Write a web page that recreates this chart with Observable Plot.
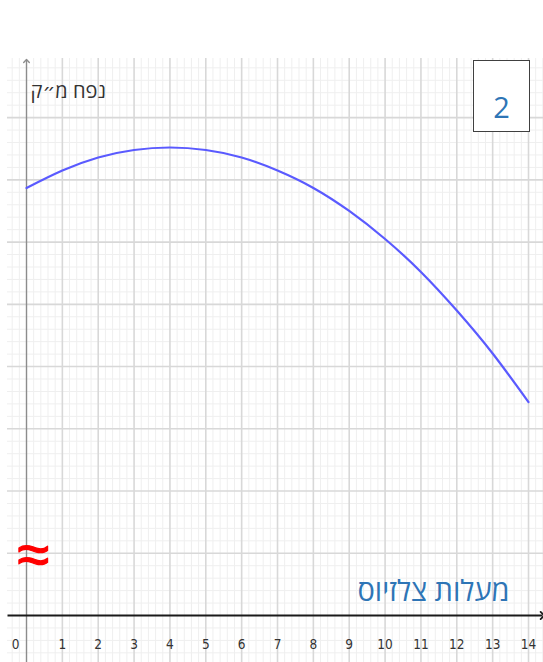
<!DOCTYPE html>
<html>
<head>
<meta charset="utf-8">
<script src="https://cdn.jsdelivr.net/npm/d3@7"></script>
<script src="https://cdn.jsdelivr.net/npm/@observablehq/plot@0.6"></script>
<style>
  html, body { margin: 0; padding: 0; background: #fff; }
  #wrap { position: relative; width: 543px; height: 662px; overflow: hidden; }
  #wrap svg { display: block; }
  #badge {
    position: absolute; left: 473px; top: 60px; width: 55px; height: 70px;
    border: 1.6px solid #404040; background: #fff;
    font-family: "Open Sans", "DejaVu Sans", sans-serif; font-size: 29px;
    color: #2e75b6; text-align: center; line-height: 1; box-sizing: content-box;
  }
  #badge span { display: block; padding-top: 31px; }
</style>
</head>
<body>
<div id="wrap"><div id="badge"><span>2</span></div></div>
<script>
// ---- data ----
const temperatures = [0, 1, 2, 3, 4, 5, 6, 7, 8, 9, 10, 11, 12, 13, 14];
const volumes = [6.87, 7.15, 7.36, 7.48, 7.52, 7.48, 7.36, 7.15, 6.87, 6.50, 6.05, 5.52, 4.90, 4.21, 3.43];
const xTickLabels = ["0", "1", "2", "3", "4", "5", "6", "7", "8", "9", "10", "11", "12", "13", "14"];
const xTickValues = [0, 1, 2, 3, 4, 5, 6, 7, 8, 9, 10, 11, 12, 13, 14];
const yLabel = "נפח מ״ק";
const xLabel = "מעלות צלזיוס";

const xDomain = [-0.53, 14.418];
const yDomain = [-0.755, 8.95];

const points = temperatures.map((t, i) => ({t, v: volumes[i]}));
const majorX = d3.range(1, 15);
const minorX = d3.range(-2, 73).map(i => i / 5).filter(v => Math.abs(v - Math.round(v)) > 1e-6);
const majorY = d3.range(1, 9);
const minorY = d3.range(-3, 45).map(i => i / 5).filter(v => Math.abs(v - Math.round(v)) > 1e-6);
const ticks = xTickValues.map((x, i) => ({x, label: xTickLabels[i]}));

const tickFont = {fontSize: 13.5, fill: "#333", fontFamily: "'DejaVu Sans Condensed', 'DejaVu Sans', sans-serif"};

const chart = Plot.plot({
  width: 543,
  height: 662,
  marginTop: 58,
  marginBottom: 0,
  marginLeft: 7,
  marginRight: 0,
  x: {domain: xDomain, axis: null},
  y: {domain: yDomain, axis: null},
  style: {background: "#fff", overflow: "visible"},
  marks: [
    Plot.ruleX(minorX, {stroke: "#efefef", strokeWidth: 1}),
    Plot.ruleY(minorY, {stroke: "#efefef", strokeWidth: 1}),
    Plot.ruleX(majorX, {stroke: "#d8d8d8", strokeWidth: 1.6}),
    Plot.ruleY(majorY, {stroke: "#d8d8d8", strokeWidth: 1.6}),
    Plot.link([0], {x1: 0, x2: 0, y1: () => yDomain[0], y2: () => yDomain[1] - 0.04,
      stroke: "#8c8c8c", strokeWidth: 1.4, markerEnd: "arrow"}),
    Plot.link([0], {x1: () => xDomain[0], x2: () => xDomain[1] - 0.03, y1: 0, y2: 0,
      stroke: "#1a1a1a", strokeWidth: 1.8, markerEnd: "arrow"}),
    Plot.line(points, {x: "t", y: "v", curve: "natural", stroke: "#5a5aff", strokeWidth: 2.2}),
    Plot.text(ticks.filter(d => d.x === 0), {x: "x", text: "label", frameAnchor: "bottom", dy: -14, dx: -11, ...tickFont}),
    Plot.text(ticks.filter(d => d.x !== 0), {x: "x", text: "label", frameAnchor: "bottom", dy: -14, ...tickFont}),
    Plot.text([yLabel], {frameAnchor: "top-left", dx: 23, dy: 25, textAnchor: "start",
      fontSize: 20, fill: "#333", fontFamily: "'Open Sans', 'DejaVu Sans', sans-serif"}),
    Plot.text([xLabel], {frameAnchor: "bottom-right", dx: -34, dy: -62, textAnchor: "end",
      fontSize: 29, fill: "#2e75b6", fontFamily: "'Open Sans', 'DejaVu Sans', sans-serif"}),
    Plot.text(["≈"], {frameAnchor: "bottom-left", dx: 26, dy: -89, textAnchor: "middle",
      fontSize: 58, fill: "#ff0000", stroke: "#ff0000", strokeWidth: 1.2,
      fontFamily: "'Liberation Sans', 'DejaVu Sans', sans-serif"})
  ]
});
document.getElementById("wrap").prepend(chart);
</script>
</body>
</html>
